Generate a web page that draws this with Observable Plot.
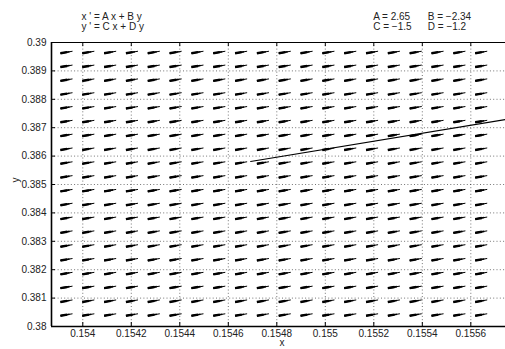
<!DOCTYPE html>
<html>
<head>
<meta charset="utf-8">
<script src="https://cdn.jsdelivr.net/npm/d3@7"></script>
<script src="https://cdn.jsdelivr.net/npm/@observablehq/plot@0.6"></script>
<style>
  html, body { margin: 0; padding: 0; background: #fff; }
  #chart svg { display: block; }
</style>
</head>
<body>
<div id="chart"></div>
<script>
// System coefficients (from the header)
const A = 2.65, B = -2.34, C = -1.5, D = -1.2;

// Axis ticks
const xTicks = [0.154, 0.1542, 0.1544, 0.1546, 0.1548, 0.155, 0.1552, 0.1554, 0.1556];
const yTicks = [0.38, 0.381, 0.382, 0.383, 0.384, 0.385, 0.386, 0.387, 0.388, 0.389, 0.39];
const xDomain = [0.153871, 0.155743];
const yDomain = [0.38, 0.39];

// Direction-field grid (arrow tips)
const fieldX = [0.153908, 0.153998, 0.154088, 0.154178, 0.154268, 0.154358, 0.154448,
  0.154538, 0.154628, 0.154718, 0.154808, 0.154898, 0.154988, 0.155078, 0.155168,
  0.155258, 0.155348, 0.155438, 0.155528, 0.155618];
const fieldY = [0.380377, 0.380864, 0.381350, 0.381837, 0.382324, 0.382810, 0.383297,
  0.383783, 0.384270, 0.384757, 0.385243, 0.385730, 0.386216, 0.386703, 0.387190,
  0.387676, 0.388163, 0.388649, 0.389136, 0.389623];

// Solution trajectory
const trajX = [0.154692, 0.155743];
const trajY = [0.385810, 0.387289];

// Header labels
const eqLines = ["x ' = A x + B y", "y ' = C x + D y"];
const paramLeft = ["A = 2.65", "C = \u22121.5"];
const paramRight = ["B = \u22122.34", "D = \u22121.2"];

// ---- layout
const W = 505, H = 349, mL = 51, mR = 0, mT = 42, mB = 23;
const kx = (W - mL - mR) / (xDomain[1] - xDomain[0]);
const ky = (H - mT - mB) / (yDomain[1] - yDomain[0]);
const L = 12.2; // arrow length, px

const arrows = [];
for (const y of fieldY) for (const x of fieldX) {
  const dx = A * x + B * y, dy = C * x + D * y;
  const px = dx * kx, py = dy * ky;
  const n = Math.hypot(px, py);
  // tail is opposite to the flow direction
  const tx = x - (px / n) * L / kx, ty = y - (py / n) * L / ky;
  arrows.push({x, y, tx, ty});
}
const seg = (f) => arrows.map(a => ({x1: a.x, y1: a.y, x2: a.x + f * (a.tx - a.x), y2: a.y + f * (a.ty - a.y)}));

const tickLenX = 4 / ky; // vertical tick length in data units
const tickLenY = 4 / kx;
const fmt = d => String(+d.toFixed(4));
const font = "'Liberation Sans', Arial, Helvetica, sans-serif";

const hdr = [
  ...eqLines.map((t, i) => ({t, dx: 30, dy: -29.5 + 10 * i})),
  ...paramLeft.map((t, i) => ({t, dx: 321.7, dy: -29.5 + 10 * i})),
  ...paramRight.map((t, i) => ({t, dx: 376.3, dy: -29.5 + 10 * i}))
];

const plot = Plot.plot({
  width: W, height: H,
  marginLeft: mL, marginRight: mR, marginTop: mT, marginBottom: mB,
  x: {domain: xDomain, axis: null},
  y: {domain: yDomain, axis: null},
  style: {fontFamily: font, fontSize: "10px", background: "#fff", color: "#000"},
  marks: [
    // dotted grid
    Plot.ruleX(xTicks, {x: d => d, stroke: "#000", strokeOpacity: 0.55, strokeWidth: 1, strokeDasharray: "1 2.3"}),
    Plot.ruleY(yTicks, {y: d => d, stroke: "#000", strokeOpacity: 0.55, strokeWidth: 1, strokeDasharray: "1 2.3"}),
    // direction field
    Plot.link(seg(1), {x1: "x1", y1: "y1", x2: "x2", y2: "y2", stroke: "#000", strokeWidth: 1}),
    Plot.link(seg(0.75), {x1: "x1", y1: "y1", x2: "x2", y2: "y2", stroke: "#000", strokeWidth: 1.6}),
    Plot.link(seg(0.55), {x1: "x1", y1: "y1", x2: "x2", y2: "y2", stroke: "#000", strokeWidth: 2.4}),
    // trajectory
    Plot.line(trajX.map((x, i) => ({x, y: trajY[i]})), {x: "x", y: "y", stroke: "#000", strokeWidth: 1.1}),
    // box
    Plot.ruleY([yDomain[1]], {stroke: "#000", strokeWidth: 1}),
    Plot.ruleY([yDomain[0]], {stroke: "#000", strokeWidth: 1.6}),
    Plot.ruleX([xDomain[0]], {stroke: "#000", strokeWidth: 1.6}),
    // inward ticks
    Plot.ruleX(xTicks, {x: d => d, y1: yDomain[0], y2: yDomain[0] + tickLenX, stroke: "#000", strokeWidth: 1}),
    Plot.ruleX(xTicks, {x: d => d, y1: yDomain[1], y2: yDomain[1] - tickLenX, stroke: "#000", strokeWidth: 1}),
    Plot.ruleY(yTicks, {y: d => d, x1: xDomain[0], x2: xDomain[0] + tickLenY, stroke: "#000", strokeWidth: 1}),
    // tick labels
    Plot.text(xTicks, {x: d => d, text: fmt, frameAnchor: "bottom", dy: 10, fontSize: 10, fill: "#222"}),
    Plot.text(yTicks, {y: d => d, text: fmt, frameAnchor: "left", dx: -5, textAnchor: "end", fontSize: 10, fill: "#222"}),
    // axis titles
    Plot.text(["x"], {text: d => d, frameAnchor: "bottom", dx: 3.5, dy: 19.5, fontSize: 10, fill: "#222"}),
    Plot.text(["y"], {text: d => d, frameAnchor: "left", dx: -36, dy: -2, rotate: -90, fontSize: 10, fill: "#222"}),
    // header
    ...hdr.map(h => Plot.text([h.t], {text: d => d, frameAnchor: "top-left", textAnchor: "start", dx: h.dx, dy: h.dy, fontSize: 10, fill: "#222"}))
  ]
});
document.getElementById("chart").appendChild(plot);
</script>
</body>
</html>
